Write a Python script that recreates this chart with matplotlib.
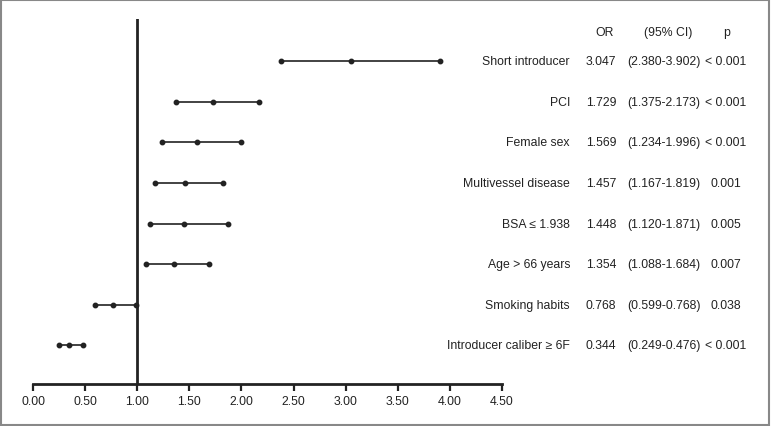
import matplotlib
matplotlib.use('Agg')
import matplotlib.pyplot as plt
from matplotlib import font_manager
import numpy as np

# Forest plot data (top to bottom)
labels = ['Short introducer', 'PCI', 'Female sex', 'Multivessel disease',
          'BSA \u2264 1.938', 'Age > 66 years', 'Smoking habits',
          'Introducer caliber \u2265 6F']
odds = [3.047, 1.729, 1.569, 1.457, 1.448, 1.354, 0.768, 0.344]
lower = [2.380, 1.375, 1.234, 1.167, 1.120, 1.088, 0.599, 0.249]
upper = [3.902, 2.173, 1.996, 1.819, 1.871, 1.684, 0.985, 0.476]
or_text = ['3.047', '1.729', '1.569', '1.457', '1.448', '1.354', '0.768', '0.344']
ci_text = ['(2.380-3.902)', '(1.375-2.173)', '(1.234-1.996)', '(1.167-1.819)',
           '(1.120-1.871)', '(1.088-1.684)', '(0.599-0.768)', '(0.249-0.476)']
p_text = ['< 0.001', '< 0.001', '< 0.001', '0.001', '0.005', '0.007', '0.038', '< 0.001']
xticks = [0.0, 0.5, 1.0, 1.5, 2.0, 2.5, 3.0, 3.5, 4.0, 4.5]

# narrow sans if present, else plain Liberation Sans a bit smaller
names = {f.name for f in font_manager.fontManager.ttflist}
if 'Liberation Sans Narrow' in names:
    plt.rcParams['font.family'] = ['Liberation Sans Narrow', 'DejaVu Sans']
    fs = 10.5
else:
    plt.rcParams['font.family'] = ['Liberation Sans', 'DejaVu Sans']
    fs = 8.8

W, H = 771, 427
fig = plt.figure(figsize=(W / 100, H / 100), dpi=100)
ax = fig.add_axes([33 / W, 1 - 385 / H, (502 - 33) / W, (385 - 20) / H])

ink = '#222222'
ys = -np.arange(len(labels))

for y, lo, mid, hi in zip(ys, lower, odds, upper):
    ax.plot([lo, hi], [y, y], color=ink, lw=1.2, zorder=2)
    ax.plot([lo, mid, hi], [y, y, y], 'o', color=ink, ms=3.2, zorder=3)

ax.axvline(1.0, color=ink, lw=2, zorder=1)

ax.set_xlim(0, 4.5)
ax.set_ylim(-7.95, 1.04)
ax.set_xticks(xticks)
ax.set_xticklabels([f'{t:.2f}' for t in xticks], fontsize=fs, color=ink)
ax.set_yticks([])
for s in ['top', 'right', 'left']:
    ax.spines[s].set_visible(False)
ax.spines['bottom'].set_linewidth(2)
ax.spines['bottom'].set_color(ink)
ax.tick_params(axis='x', direction='out', length=5, width=1.6, color=ink, pad=3)

# Right-hand text columns (pixel x converted to data)
def px(x):
    return (x - 33) / (502 - 33) * 4.5

for y, lab, o, c, p in zip(ys, labels, or_text, ci_text, p_text):
    ax.text(px(570), y, lab, ha='right', va='center', fontsize=fs, color=ink, clip_on=False)
    ax.text(px(601), y, o, ha='center', va='center', fontsize=fs, color=ink, clip_on=False)
    ax.text(px(664), y, c, ha='center', va='center', fontsize=fs, color=ink, clip_on=False)
    ax.text(px(726), y, p, ha='center', va='center', fontsize=fs, color=ink, clip_on=False)

ax.text(px(605), 0.72, 'OR', ha='center', va='center', fontsize=fs, color=ink, clip_on=False)
ax.text(px(668), 0.72, '(95% CI)', ha='center', va='center', fontsize=fs, color=ink, clip_on=False)
ax.text(px(727), 0.72, 'p', ha='center', va='center', fontsize=fs, color=ink, clip_on=False)

# gray frame around the figure
fig.patches.append(plt.Rectangle((0.001, 0.002), 0.997, 0.996, transform=fig.transFigure,
                                 fill=False, edgecolor='#888888', lw=1.5))

fig.savefig('out.png', dpi=100)
